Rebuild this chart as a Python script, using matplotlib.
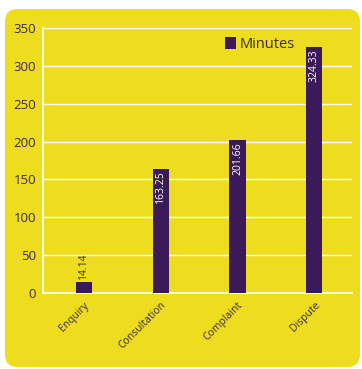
import matplotlib
matplotlib.use("Agg")
import matplotlib.pyplot as plt
from matplotlib.patches import FancyBboxPatch

categories = ["Enquiry", "Consultation", "Complaint", "Dispute"]
minutes = [14.14, 163.25, 201.66, 324.33]
value_labels = ["14.14", "163.25", "201.66", "324.33"]
y_ticks = [0, 50, 100, 150, 200, 250, 300, 350]

YELLOW = "#EEDD1E"
PURPLE = "#3A1A58"
TEXT = "#3B2A4E"

plt.rcParams["font.family"] = ["Open Sans", "DejaVu Sans"]

fig = plt.figure(figsize=(3.62, 3.69), dpi=100)
fig.patch.set_facecolor("white")

# rounded yellow panel behind the chart
panel = FancyBboxPatch((5 / 362, 2 / 369), 355 / 362, 358 / 369,
                       boxstyle="round,pad=0,rounding_size=0.035",
                       transform=fig.transFigure, facecolor=YELLOW,
                       edgecolor="none", zorder=-5)
fig.patches.append(panel)

ax = fig.add_axes([43 / 362, 1 - 293 / 369, 309 / 362, 265 / 369])
ax.set_facecolor("none")
ax.set_zorder(2)

x = range(len(categories))
bars = ax.bar(x, minutes, width=0.21, color=PURPLE, zorder=3, label="Minutes")

ax.set_ylim(0, 350)
ax.set_xlim(-0.53, 3.49)
ax.set_yticks(y_ticks)
ax.set_yticklabels([str(v) for v in y_ticks], color=TEXT, fontsize=9.5)
ax.set_xticks(list(x))
ax.set_xticklabels(categories, rotation=45, ha="right", va="top",
                   rotation_mode="anchor", color=TEXT, fontsize=7.5)
ax.tick_params(axis="x", length=0, pad=5)
ax.tick_params(axis="y", length=0, pad=5)

ax.grid(axis="y", color="white", linewidth=1.0, zorder=1)
for side in ["top", "right"]:
    ax.spines[side].set_visible(False)
for side in ["left", "bottom"]:
    ax.spines[side].set_color("white")
    ax.spines[side].set_linewidth(1.2)

# value labels: inside the top of tall bars, above the short one
for rect, val, lab in zip(bars, minutes, value_labels):
    cx = rect.get_x() + rect.get_width() / 2
    if val > 50:
        ax.text(cx, val - 3, lab, rotation=90, ha="center", va="top",
                color="white", fontsize=7.5, zorder=4)
    else:
        ax.text(cx, val + 3, lab, rotation=90, ha="center", va="bottom",
                color=TEXT, fontsize=7.5, zorder=4)

leg = ax.legend(loc="upper left", bbox_to_anchor=(0.56, 1.0), frameon=False,
                handlelength=0.75, handleheight=0.9, handletextpad=0.25,
                borderaxespad=0.2, prop={"size": 10.5})
for t in leg.get_texts():
    t.set_color(TEXT)

fig.savefig("out.png", dpi=100)
